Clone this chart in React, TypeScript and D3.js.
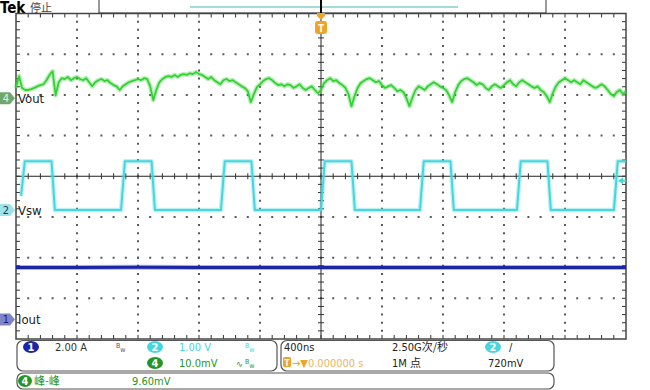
import React from 'react';
import * as d3 from 'd3';

// screen frame of the graticule
const X0 = 16, X1 = 626, Y0 = 13.5, Y1 = 339;

// horizontal: 400 ns/div, 10 divisions, trigger at centre
const timeDomainNs = [-2000, 2000];
const divisionsX = 10;
const divisionsY = 8;

// ch4 Vout, 10.0 mV/div, sampled every 20 ns from the left edge
const voutStepNs = 20;
const voutMv = [
  2.5, 5.4, 2.5, 2.0, 2.0, 2.2, 2.5, 2.9, 3.2, 3.4,
  4.4, 5.7, 6.6, 0.7, 3.9, 4.9, 4.7, 5.2, 4.4, 4.9,
  5.2, 4.7, 4.4, 4.9, 3.9, 2.9, 3.9, 4.4, 4.7, 4.2,
  4.4, 3.7, 3.2, 2.9, 2.0, 2.9, 3.4, 3.9, 4.2, 4.4,
  4.7, 4.4, 4.9, 4.7, 2.9, -0.5, 2.0, 3.9, 4.7, 5.2,
  5.4, 5.2, 5.7, 5.2, 5.7, 5.9, 5.7, 6.1, 5.9, 6.4,
  5.9, 5.7, 5.2, 4.7, 5.2, 4.4, 3.9, 3.4, 4.4, 4.7,
  4.2, 4.4, 3.9, 3.4, 2.9, 2.5, 1.7, -1.0, 1.0, 2.7,
  3.4, 4.2, 4.7, 4.9, 4.4, 3.7, 3.2, 3.4, 2.9, 3.4,
  3.2, 2.5, 2.9, 3.4, 2.5, 2.0, 2.5, 2.9, 2.0, 1.2,
  2.0, 3.7, 4.4, 4.9, 4.2, 4.4, 3.7, 3.2, 2.5, 1.0,
  -2.0, 0.5, 2.5, 3.7, 4.2, 4.7, 4.9, 4.4, 3.9, 4.2,
  3.2, 2.5, 2.9, 3.2, 2.5, 1.7, 2.0, 1.5, 0.0, -2.0,
  0.2, 2.0, 2.9, 2.5, 2.0, 2.9, 3.4, 3.9, 3.4, 2.9,
  2.5, 2.0, 0.7, -1.0, 1.5, 3.2, 4.2, 4.7, 4.9, 4.4,
  3.9, 3.2, 3.7, 3.4, 2.5, 2.0, 2.9, 3.4, 2.9, 2.5,
  3.2, 3.9, 4.4, 3.4, 2.9, 3.9, 4.4, 3.9, 3.4, 2.9,
  2.5, 2.9, 2.0, 1.5, 0.5, -1.0, 1.2, 2.9, 3.9, 4.4,
  4.9, 4.4, 3.9, 4.4, 3.9, 3.4, 4.4, 3.9, 3.4, 2.9,
  2.5, 2.9, 3.4, 2.9, 2.0, 1.0, 0.5, 1.5, 2.0, 1.0,
  1.7,
];

// ch2 Vsw, 1.00 V/div: rising-edge starts (ns) and levels (V)
const vswRiseNs = [-1967, -1311, -656, 0, 649, 1285, 1921];
const vswRiseTimeNs = 25;
const vswHighNs = 175;
const vswFallTimeNs = 22;
const vswHighV = 1.2;
const vswLowV = 0.0;

// ch1 Iout, 2.00 A/div
const ioutNs = [-2000, -1600, -1200, -800, -400, 0, 400, 800, 1200, 1600, 2000];
const ioutA = [2.56, 2.55, 2.57, 2.55, 2.56, 2.55, 2.56, 2.55, 2.56, 2.55, 2.56];

// channel ground marker positions (divisions from centre) and scales
const ch4PosDiv = 1.92, ch4MvPerDiv = 10;
const ch2PosDiv = -0.83, ch2VPerDiv = 1;
const ch1PosDiv = -3.52, ch1APerDiv = 2;
const trigLevelV = 0.72;

const GREEN = '#35d035';
const CYAN = '#45d6de';
const BLUE = '#1c25a8';
const ORANGE = '#eea32a';
const FONT = '"Liberation Sans Narrow", "DejaVu Sans Condensed", "Liberation Sans", sans-serif';
const CJK = '"Noto Sans CJK SC", sans-serif';

export default function App() {
  const x = d3.scaleLinear().domain(timeDomainNs).range([X0, X1]);
  const yDiv = d3.scaleLinear().domain([-divisionsY / 2, divisionsY / 2]).range([Y1, Y0]);
  const yCh4 = (mv: number) => yDiv(ch4PosDiv + mv / ch4MvPerDiv);
  const yCh2 = (v: number) => yDiv(ch2PosDiv + v / ch2VPerDiv);
  const yCh1 = (a: number) => yDiv(ch1PosDiv + a / ch1APerDiv);

  const divW = (X1 - X0) / divisionsX;
  const divH = (Y1 - Y0) / divisionsY;
  const cx = x(0);
  const cy = yDiv(0);

  const line = d3.line<[number, number]>();

  const voutPts: [number, number][] = voutMv.map((v, i) => [x(timeDomainNs[0] + i * voutStepNs), yCh4(v)]);

  const vswPts: [number, number][] = [];
  vswRiseNs.forEach((t, i) => {
    if (i === 0) vswPts.push([x(t), yCh2(0.35)]);
    else vswPts.push([x(t), yCh2(vswLowV)]);
    vswPts.push([x(t + vswRiseTimeNs), yCh2(vswHighV)]);
    const tf = t + vswRiseTimeNs + vswHighNs;
    if (tf < timeDomainNs[1]) {
      vswPts.push([x(tf), yCh2(vswHighV)]);
      vswPts.push([x(tf + vswFallTimeNs), yCh2(vswLowV)]);
      if (vswRiseNs[i + 1] === undefined) vswPts.push([x(timeDomainNs[1]), yCh2(vswLowV)]);
    } else {
      vswPts.push([x(timeDomainNs[1]), yCh2(vswHighV)]);
    }
  });

  const ioutPts: [number, number][] = ioutNs.map((t, i) => [x(t), yCh1(ioutA[i])]);

  // graticule: dotted division lines (dot every minor step), centre cross and edge ticks
  const vGrid = d3.range(1, divisionsX).filter(i => i !== divisionsX / 2).map(i => X0 + i * divW);
  const hGrid = d3.range(1, divisionsY).filter(j => j !== divisionsY / 2).map(j => Y0 + j * divH);
  const hTicks = d3.range(1, divisionsX * 5).map(k => X0 + k * divW / 5);
  const vTicks = d3.range(1, divisionsY * 5).map(k => Y0 + k * divH / 5);

  const chMarker = (y: number, fill: string, label: string, txt: string) => (
    <g>
      <path d={`M0,${y - 6}H10L15,${y}L10,${y + 6}H0Z`} fill={fill} />
      <text x={6} y={y + 4} fontSize={11} fill={txt} textAnchor="middle" fontFamily={FONT}>{label}</text>
    </g>
  );

  const badge = (bx: number, by: number, fill: string, label: string, rx = 8) => (
    <g>
      <ellipse cx={bx} cy={by} rx={rx} ry={6} fill={fill} />
      <text x={bx} y={by + 4} fontSize={11} fill="#fff" textAnchor="middle" fontFamily={FONT} fontWeight="bold">{label}</text>
    </g>
  );

  const bw = (bx: number, by: number, col: string) => (
    <text x={bx} y={by} fill={col} fontFamily={FONT} fontSize={7}>
      <tspan dy={-3}>B</tspan><tspan dy={4}>w</tspan>
    </text>
  );

  const r1 = 351, r2 = 367, r3 = 385;
  const dotV = `2 ${divH / 5 - 2}`;
  const dotH = `2 ${divW / 5 - 2}`;

  return (
    <svg width={650} height={390} style={{ position: 'absolute', left: 0, top: 0, background: '#fff' }}>
      <rect x={0} y={0} width={650} height={390} fill="#fff" />

      {/* header */}
      <text x={0} y={13} fontFamily={FONT} fontWeight="bold" fontSize={15} fill="#000">Tek</text>
      <text x={30} y={12} fontFamily={CJK} fontSize={11} fill="#444">停止</text>
      <rect x={99} y={-1} width={447} height={14} fill="#fff" stroke="#333" strokeWidth={1} />
      <line x1={190} x2={458} y1={7} y2={7} stroke="#a2dcd8" strokeWidth={2} />

      {/* graticule */}
      <g stroke="#5a5a5a" strokeWidth={2} fill="none">
        {vGrid.map((gx, i) => (
          <line key={'gv' + i} x1={gx} x2={gx} y1={Y0 + divH / 5 - 1} y2={Y1 - 2} strokeDasharray={dotV} />
        ))}
        {hGrid.map((gy, i) => (
          <line key={'gh' + i} x1={X0 + divW / 5 - 1} x2={X1 - 2} y1={gy} y2={gy} strokeDasharray={dotH} />
        ))}
      </g>
      <line x1={X0} x2={X1} y1={cy} y2={cy} stroke="#222" strokeWidth={1} />
      <line x1={cx} x2={cx} y1={Y0} y2={Y1} stroke="#222" strokeWidth={1} />
      {hTicks.map((tx, i) => (
        <g key={'h' + i} stroke="#333" strokeWidth={1}>
          <line x1={tx} x2={tx} y1={cy - 3} y2={cy + 3} />
          <line x1={tx} x2={tx} y1={Y0} y2={Y0 + 4} />
          <line x1={tx} x2={tx} y1={Y1 - 4} y2={Y1} />
        </g>
      ))}
      {vTicks.map((ty, i) => (
        <g key={'v' + i} stroke="#333" strokeWidth={1}>
          <line x1={cx - 3} x2={cx + 3} y1={ty} y2={ty} />
          <line x1={X0} x2={X0 + 4} y1={ty} y2={ty} />
          <line x1={X1 - 4} x2={X1} y1={ty} y2={ty} />
        </g>
      ))}
      <rect x={X0} y={Y0} width={X1 - X0} height={Y1 - Y0} fill="none" stroke="#444" strokeWidth={1.5} />

      {/* traces: a faint wide band under each line gives the persistence fuzz */}
      <path d={line(ioutPts) ?? ''} fill="none" stroke={BLUE} strokeOpacity={0.35} strokeWidth={5} />
      <path d={line(ioutPts) ?? ''} fill="none" stroke={BLUE} strokeWidth={3} />
      <path d={line(vswPts) ?? ''} fill="none" stroke={CYAN} strokeOpacity={0.35} strokeWidth={4.5} strokeLinejoin="round" />
      <path d={line(vswPts) ?? ''} fill="none" stroke={CYAN} strokeWidth={2} strokeLinejoin="round" />
      <path d={line(voutPts) ?? ''} fill="none" stroke={GREEN} strokeOpacity={0.35} strokeWidth={4.5} strokeLinejoin="round" />
      <path d={line(voutPts) ?? ''} fill="none" stroke={GREEN} strokeWidth={1.8} strokeLinejoin="round" />

      {/* trigger position */}
      <line x1={cx} x2={cx} y1={-1} y2={14} stroke="#000" strokeWidth={2} />
      <path d={`M${cx - 4},13H${cx + 4}V16L${cx},20L${cx - 4},16Z`} fill={ORANGE} />
      <rect x={cx - 6} y={21} width={12} height={13} rx={3} fill={ORANGE} />
      <text x={cx} y={31.5} fontSize={10} fill="#fff8e0" textAnchor="middle" fontFamily={FONT} fontWeight="bold">T</text>
      {/* trigger level */}
      <path d={`M${X1 - 8},${yCh2(trigLevelV)}L${X1 - 3},${yCh2(trigLevelV) - 3.5}V${yCh2(trigLevelV) - 1}H${X1}V${yCh2(trigLevelV) + 1}H${X1 - 3}V${yCh2(trigLevelV) + 3.5}Z`} fill={CYAN} />

      {/* channel markers */}
      {chMarker(yCh4(0), '#6fa86f', '4', '#e4f2e4')}
      {chMarker(yCh2(0), '#9be4ea', '2', '#333')}
      {chMarker(yCh1(0), '#7f84c6', '1', '#1c2070')}
      <text x={18} y={yCh4(0) + 5} fontSize={13} fill="#222" fontFamily={FONT}>Vout</text>
      <text x={18} y={yCh2(0) + 5} fontSize={13} fill="#222" fontFamily={FONT}>Vsw</text>
      <text x={18} y={yCh1(0) + 5} fontSize={13} fill="#222" fontFamily={FONT}>Iout</text>

      {/* readouts */}
      <rect x={17} y={340.5} width={260} height={30.5} rx={6} fill="#fff" stroke="#555" strokeWidth={1.2} />
      <rect x={281} y={340.5} width={273} height={30.5} rx={6} fill="#fff" stroke="#555" strokeWidth={1.2} />
      <rect x={17} y={373} width={537} height={16} rx={6} fill="#fff" stroke="#555" strokeWidth={1.2} />

      {badge(31, r1 - 4, BLUE, '1')}
      <text x={55} y={r1} fontSize={11} fill="#333" fontFamily={FONT}>2.00 A</text>
      {bw(116, r1, '#555')}
      {badge(155, r1 - 4, CYAN, '2')}
      <text x={179} y={r1} fontSize={11} fill={CYAN} fontFamily={FONT}>1.00 V</text>
      {bw(245, r1, CYAN)}
      {badge(155, r2 - 4, '#22962a', '4')}
      <text x={179} y={r2} fontSize={11} fill="#22962a" fontFamily={FONT}>10.0mV</text>
      <text x={236} y={r2} fontSize={9} fill="#22962a" fontFamily={FONT}>∿</text>
      {bw(245, r2, '#22962a')}

      <text x={284} y={r1} fontSize={11} fill="#222" fontFamily={FONT}>400ns</text>
      <text x={392} y={r1} fontSize={11} fill="#222" fontFamily={FONT}>2.50G<tspan fontFamily={CJK}>次/秒</tspan></text>
      {badge(493, r1 - 4, CYAN, '2')}
      <text x={509} y={r1} fontSize={11} fill="#222" fontFamily={FONT}>/</text>
      <rect x={283} y={r2 - 10} width={8} height={10} rx={1.5} fill={ORANGE} />
      <text x={287} y={r2 - 1.5} fontSize={8} fill="#fff" textAnchor="middle" fontFamily={FONT} fontWeight="bold">T</text>
      <text x={292} y={r2} fontSize={11} fill={ORANGE} fontFamily={FONT}>→▼<tspan fill="#e9b560">0.000000 s</tspan></text>
      <text x={392} y={r2} fontSize={11} fill="#222" fontFamily={FONT}>1M <tspan fontFamily={CJK}>点</tspan></text>
      <text x={488} y={r2} fontSize={11} fill="#222" fontFamily={FONT}>720mV</text>

      {badge(25, r3 - 4, '#22962a', '4', 7)}
      <text x={34} y={r3} fontSize={11} fill="#22962a" fontFamily={CJK}>峰-峰</text>
      <text x={132} y={r3} fontSize={11} fill="#22962a" fontFamily={FONT}>9.60mV</text>
    </svg>
  );
}
